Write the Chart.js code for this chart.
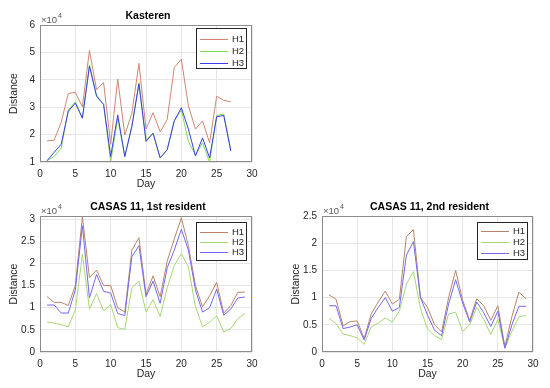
<!DOCTYPE html>
<html>
<head>
<meta charset="utf-8">
<script src="https://cdn.jsdelivr.net/npm/chart.js@4.4.1/dist/chart.umd.min.js"></script>
<style>
    body { margin: 0; background: #fff; }
    #wrap { position: relative; width: 550px; height: 388px; }
    #wrap canvas { position: absolute; left: 0; top: 0; }
</style>
</head>
<body>
<div id="wrap">
    <canvas id="chartKasteren" width="550" height="388"></canvas>
    <canvas id="chartCasas1" width="550" height="388"></canvas>
    <canvas id="chartCasas2" width="550" height="388"></canvas>
</div>
<script>
// values are in units of 10^4
var kasterenDays = [1, 2, 3, 4, 5, 6, 7, 8, 9, 10, 11, 12, 13, 14, 15, 16, 17, 18, 19, 20, 21, 22, 23, 24, 25, 26, 27];
var kasterenH1 = [1.77, 1.8, 2.45, 3.5, 3.54, 3.02, 5.07, 3.64, 3.9, 1.65, 4.02, 1.99, 2.78, 4.6, 2.2, 2.8, 2.1, 2.55, 4.45, 4.75, 3.05, 2.2, 2.5, 1.7, 3.4, 3.25, 3.2];
var kasterenH2 = [1.05, 1.2, 1.5, 2.9, 3.2, 2.6, 4.55, 3.45, 3.1, 1.0, 2.6, 1.2, 2.3, 3.9, 1.8, 2.05, 1.15, 1.45, 2.5, 2.9, 1.75, 1.25, 1.7, 1.0, 2.7, 2.75, 1.45];
var kasterenH3 = [1.05, 1.35, 1.65, 2.85, 3.15, 2.6, 4.5, 3.4, 3.1, 1.2, 2.72, 1.2, 2.3, 3.85, 1.75, 2.05, 1.15, 1.45, 2.5, 2.98, 2.2, 1.22, 1.88, 1.15, 2.65, 2.7, 1.4];

var casasDays = [1, 2, 3, 4, 5, 6, 7, 8, 9, 10, 11, 12, 13, 14, 15, 16, 17, 18, 19, 20, 21, 22, 23, 24, 25, 26, 27, 28, 29];
var casas1H1 = [1.25, 1.12, 1.12, 1.05, 1.5, 3.05, 1.68, 1.85, 1.5, 1.5, 1.0, 0.9, 2.3, 2.58, 1.3, 1.72, 1.25, 2.05, 2.55, 3.03, 2.4, 1.5, 1.02, 1.27, 1.57, 0.88, 1.05, 1.35, 1.35];
var casas1H2 = [0.68, 0.65, 0.62, 0.57, 0.95, 2.2, 0.97, 1.32, 0.93, 1.07, 0.55, 0.51, 1.45, 1.6, 0.9, 1.18, 0.8, 1.45, 1.95, 2.22, 1.92, 1.02, 0.57, 0.67, 0.82, 0.45, 0.53, 0.75, 0.87];
var casas1H3 = [1.06, 1.06, 0.88, 0.88, 1.4, 2.85, 1.22, 1.75, 1.37, 1.33, 0.87, 0.82, 2.15, 2.4, 1.25, 1.6, 1.1, 1.9, 2.3, 2.77, 2.3, 1.4, 0.9, 1.0, 1.42, 0.83, 0.97, 1.22, 1.24];

var casas2H1 = [1.05, 0.97, 0.48, 0.56, 0.57, 0.25, 0.7, 0.92, 1.12, 0.88, 0.97, 2.12, 2.25, 1.0, 0.82, 0.5, 0.37, 1.0, 1.5, 0.95, 0.58, 0.98, 0.85, 0.58, 0.85, 0.1, 0.65, 1.1, 0.98];
var casas2H2 = [0.62, 0.52, 0.33, 0.3, 0.26, 0.14, 0.46, 0.53, 0.63, 0.55, 0.75, 1.25, 1.48, 0.8, 0.42, 0.3, 0.23, 0.7, 0.73, 0.38, 0.5, 0.82, 0.6, 0.32, 0.6, 0.07, 0.38, 0.65, 0.67];
var casas2H3 = [0.85, 0.85, 0.43, 0.46, 0.5, 0.22, 0.62, 0.82, 1.0, 0.75, 0.82, 1.78, 2.03, 1.0, 0.68, 0.4, 0.3, 0.88, 1.33, 0.9, 0.55, 0.92, 0.72, 0.47, 0.75, 0.07, 0.5, 0.84, 0.84];

var seriesNames = ['H1', 'H2', 'H3'];
var topColors = ['#d0866f', '#7edc58', '#3c3ce8'];
var bottomColors = ['#b8846a', '#a6d874', '#7468f2'];

var FONT = '"Liberation Sans", Arial, sans-serif';
var TEXT = '#262626';

function points(days, vals) {
    return days.map(function (d, i) { return { x: d, y: vals[i] }; });
}

// titles, x10^4 label, box and legend, matlab style
function decoPlugin(cfg) {
    return {
        id: 'deco',
        afterDraw: function (chart) {
            var a = chart.chartArea;
            var ctx = chart.ctx;
            ctx.save();
            ctx.strokeStyle = '#8c8c8c';
            ctx.lineWidth = 1;
            ctx.strokeRect(a.left + 0.5, a.top + 0.5, a.right - a.left - 1, a.bottom - a.top - 1);

            ctx.fillStyle = '#000';
            ctx.font = 'bold 10.5px ' + FONT;
            ctx.textAlign = 'center';
            ctx.textBaseline = 'middle';
            ctx.fillText(cfg.title, (a.left + a.right) / 2 + 2, a.top - 9);

            ctx.fillStyle = '#555';
            ctx.textAlign = 'left';
            ctx.font = '9.5px ' + FONT;
            ctx.fillText('\u00d710', a.left + 1, a.top - 5);
            ctx.font = '7px ' + FONT;
            ctx.fillText('4', a.left + 18, a.top - 9);

            var L = cfg.legend;
            ctx.fillStyle = '#fff';
            ctx.fillRect(L.x, L.y, L.w, L.h);
            ctx.strokeStyle = '#262626';
            ctx.strokeRect(L.x + 0.5, L.y + 0.5, L.w, L.h);
            ctx.font = '9.5px ' + FONT;
            for (var i = 0; i < seriesNames.length; i++) {
                var y = L.rows[i];
                ctx.strokeStyle = cfg.colors[i];
                ctx.beginPath();
                ctx.moveTo(L.x + 4, y + 0.5);
                ctx.lineTo(L.x + 32, y + 0.5);
                ctx.stroke();
                ctx.fillStyle = TEXT;
                ctx.fillText(seriesNames[i], L.x + 36, y);
            }
            ctx.restore();
        }
    };
}

function tickText(v) {
    return String(Number(v.toFixed(2)));
}

function makeChart(id, cfg) {
    var ctx = document.getElementById(id).getContext('2d');
    var datasets = [cfg.h1, cfg.h2, cfg.h3].map(function (vals, i) {
        return {
            label: seriesNames[i],
            data: points(cfg.days, vals),
            borderColor: cfg.colors[i],
            borderWidth: 1,
            pointRadius: 0,
            fill: false,
            tension: 0,
            order: 3 - i
        };
    });
    return new Chart(ctx, {
        type: 'line',
        data: { datasets: datasets },
        options: {
            responsive: false,
            animation: false,
            layout: { padding: cfg.padding },
            plugins: {
                legend: { display: false },
                title: { display: false },
                tooltip: { enabled: false }
            },
            scales: {
                x: {
                    type: 'linear',
                    min: 0,
                    max: 30,
                    ticks: { stepSize: 5, padding: 6, color: TEXT, font: { family: FONT, size: 10 }, maxRotation: 0, callback: tickText },
                    grid: { color: '#e6e6e6', drawTicks: false },
                    border: { display: false },
                    title: { display: true, text: 'Day', color: TEXT, font: { family: FONT, size: 10.5 }, padding: { top: 0, bottom: 5 } },
                    afterFit: function (s) { s.height = 33; }
                },
                y: {
                    type: 'linear',
                    min: cfg.yMin,
                    max: cfg.yMax,
                    ticks: { stepSize: cfg.yStep, includeBounds: false, padding: 5, color: TEXT, font: { family: FONT, size: 10 }, callback: tickText },
                    grid: { color: '#e6e6e6', drawTicks: false },
                    border: { display: false },
                    title: { display: true, text: 'Distance', color: TEXT, font: { family: FONT, size: 10.5 }, padding: { top: 8, bottom: 0 } },
                    afterFit: function (s) { s.width = 40; }
                }
            }
        },
        plugins: [decoPlugin(cfg)]
    });
}

document.addEventListener('DOMContentLoaded', function () {
    // Kasteren
    makeChart('chartKasteren', {
        title: 'Kasteren',
        days: kasterenDays, h1: kasterenH1, h2: kasterenH2, h3: kasterenH3,
        colors: topColors,
        yMin: 1, yMax: 6, yStep: 1,
        padding: { left: 0, top: 25, right: 298, bottom: 193 },
        legend: { x: 196, y: 28, w: 50, h: 40, rows: [39, 51, 63] }
    });

    // CASAS 11, 1st resident
    makeChart('chartCasas1', {
        title: 'CASAS 11, 1st resident',
        days: casasDays, h1: casas1H1, h2: casas1H2, h3: casas1H3,
        colors: bottomColors,
        yMin: 0, yMax: 3.07, yStep: 0.5,
        padding: { left: 0, top: 216, right: 298, bottom: 3 },
        legend: { x: 196, y: 222, w: 50, h: 38, rows: [232, 242, 252] }
    });

    // CASAS 11, 2nd resident
    makeChart('chartCasas2', {
        title: 'CASAS 11, 2nd resident',
        days: casasDays, h1: casas2H1, h2: casas2H2, h3: casas2H3,
        colors: bottomColors,
        yMin: 0, yMax: 2.5, yStep: 0.5,
        padding: { left: 282, top: 216, right: 17, bottom: 3 },
        legend: { x: 477, y: 222, w: 50, h: 37, rows: [231, 242, 253] }
    });
});
</script>
</body>
</html>
